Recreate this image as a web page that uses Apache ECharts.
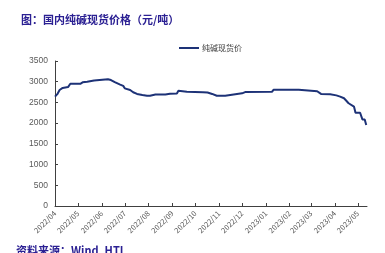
<!DOCTYPE html>
<html><head><meta charset="utf-8">
<script src="https://cdn.jsdelivr.net/npm/echarts@6/dist/echarts.min.js"></script>
<style>html,body{margin:0;padding:0;background:#fff}#c{width:385px;height:253px}</style>
</head><body><div id="c"></div>
<script>
const seriesName = '纯碱现货价';
const dates = ['2022-04-01','2022-04-04','2022-04-07','2022-04-11','2022-04-18','2022-04-21','2022-05-04','2022-05-07','2022-05-13','2022-05-14','2022-05-22','2022-05-23','2022-06-09','2022-06-13','2022-06-18','2022-06-25','2022-06-29','2022-07-01','2022-07-08','2022-07-12','2022-07-17','2022-07-24','2022-07-30','2022-08-03','2022-08-10','2022-08-14','2022-08-16','2022-08-23','2022-08-29','2022-09-07','2022-09-09','2022-09-20','2022-10-11','2022-10-17','2022-10-23','2022-10-29','2022-11-09','2022-11-11','2022-12-01','2022-12-05','2023-01-09','2023-01-11','2023-02-13','2023-02-15','2023-03-09','2023-03-14','2023-03-26','2023-04-03','2023-04-08','2023-04-13','2023-04-19','2023-04-26','2023-04-28','2023-05-04','2023-05-07','2023-05-10','2023-05-12'];
const prices = [2640,2700,2800,2850,2870,2950,2950,2985,3000,3025,3030,3060,3060,3040,2990,2930,2900,2840,2800,2745,2705,2680,2660,2660,2690,2690,2660,2690,2710,2715,2780,2760,2745,2740,2705,2660,2660,2700,2720,2750,2755,2805,2805,2780,2770,2705,2695,2670,2640,2600,2480,2400,2250,2250,2090,2090,1955];
const monthTicks = ['2022-04-01','2022-05-01','2022-06-01','2022-07-01','2022-08-01','2022-09-01','2022-10-01','2022-11-01','2022-12-01','2023-01-01','2023-02-01','2023-03-01','2023-04-01','2023-05-01'];
const yTicks = [0,500,1000,1500,2000,2500,3000,3500];

const toTs = s => { const p = s.split('-').map(Number); return new Date(p[0], p[1]-1, p[2]).getTime(); };
const tickTs = monthTicks.map(toTs);
const data = dates.map((d,i)=>[toTs(d), prices[i]]);
const pad = n => (n<10?'0':'')+n;

const chart = echarts.init(document.getElementById('c'));
chart.setOption({
  animation:false,
  textStyle:{fontFamily:'"Noto Sans CJK SC", "Liberation Sans", sans-serif'},
  grid:{left:55,right:18,top:61,bottom:47,containLabel:false},
  title:{text:'图：国内纯碱现货价格（元/吨）',left:16,top:9,
    textStyle:{fontSize:11,fontWeight:'bold',color:'#2b2093',fontFamily:'"Noto Sans CJK SC", sans-serif'}},
  graphic:[{type:'text',left:16,top:245,style:{text:'资料来源：Wind, HTI',fontSize:11,fontWeight:'bold',fill:'#2b2093',fontFamily:'"Noto Sans CJK SC", sans-serif'}}],
  legend:{top:39,left:174,itemWidth:20,itemHeight:2,itemGap:4,icon:'rect',
    data:[seriesName],textStyle:{fontSize:8,color:'#404040',padding:[0,0,0,-2]}},
  xAxis:{type:'value',min:toTs('2022-04-01'),max:toTs('2023-05-13'),
    axisLine:{lineStyle:{color:'#404040',width:1}},
    axisTick:{show:true,inside:true,length:3,customValues:tickTs,lineStyle:{color:'#404040'}},
    axisLabel:{customValues:tickTs,rotate:45,fontSize:7.5,color:'#595959',margin:6,
      formatter:v=>{const d=new Date(v);return d.getFullYear()+'/'+pad(d.getMonth()+1);}},
    splitLine:{show:false}},
  yAxis:{type:'value',min:0,max:3500,interval:500,
    axisLine:{show:true,lineStyle:{color:'#404040',width:1}},
    axisTick:{show:true,inside:true,length:3,customValues:yTicks,lineStyle:{color:'#404040'}},
    axisLabel:{customValues:yTicks,fontSize:8.5,color:'#595959',margin:7,fontFamily:'"Liberation Sans", sans-serif',
      formatter:v=>String(v)},
    splitLine:{show:false}},
  series:[{name:seriesName,type:'line',data:data,showSymbol:false,symbol:'none',
    lineStyle:{color:'#1d3277',width:2},itemStyle:{color:'#1d3277'}}]
});
</script></body></html>
